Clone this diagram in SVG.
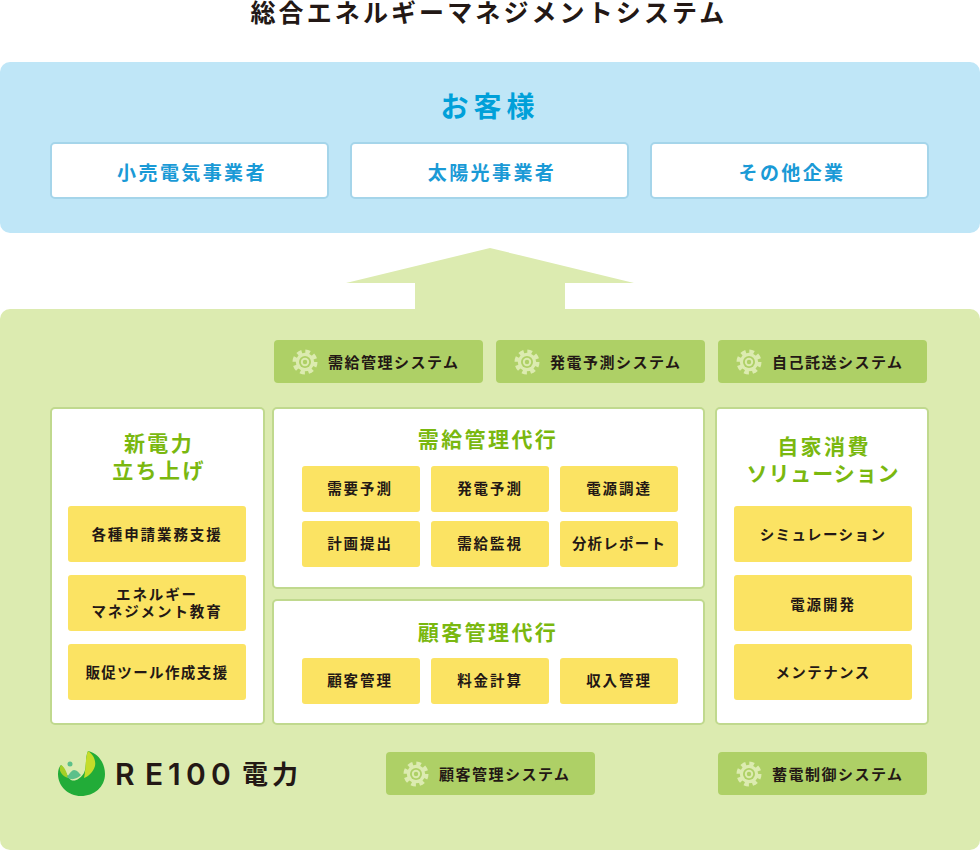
<svg xmlns="http://www.w3.org/2000/svg" width="980" height="850" viewBox="0 0 980 850">
<style>
text{font-family:"Noto Sans CJK JP","Noto Sans",sans-serif;text-anchor:middle}
.t{font-size:25px;font-weight:700;fill:#231815;letter-spacing:3.1px}
.h1{font-size:28px;font-weight:700;fill:#00a0d9;letter-spacing:5px}
.cust{fill:#fff;stroke:#a5d5ea;stroke-width:2}
.c{font-size:19px;font-weight:700;fill:#1a9ad6;letter-spacing:2.4px}
.pan{fill:#fff;stroke:#c0d98e;stroke-width:2}
.h2{font-size:21px;font-weight:700;fill:#7ab80f;letter-spacing:2.4px}
.y{fill:#fbe363}
.l{font-size:14.5px;font-weight:700;fill:#231815;letter-spacing:1.9px}
.s{fill:#aed066}
.st{font-size:15px;font-weight:700;fill:#231815;letter-spacing:1.5px;text-anchor:start}
.lg{font-weight:600;fill:#231815;text-anchor:start}
</style>
<defs>
<g id="gear">
<circle r="10.3" fill="none" stroke="#dcebb0" stroke-width="4.4" stroke-dasharray="4.6 3.49"/>
<circle r="9.2" fill="#dcebb0"/>
<circle r="6" fill="#aed066"/>
<circle r="4.2" fill="#dcebb0"/>
<circle r="2.2" fill="#aed066"/>
</g>
</defs>
<text class="t" x="489" y="22">総合エネルギーマネジメントシステム</text>
<g id="customers">
<rect x="0" y="62" width="980" height="171" rx="10" fill="#bfe6f7"/>
<text class="h1" x="490" y="117">お客様</text>
</g>
<g id="c1"><rect class="cust" x="51" y="143" width="277" height="55" rx="4"/><text class="c" x="192" y="180">小売電気事業者</text></g>
<g id="c2"><rect class="cust" x="351" y="143" width="277" height="55" rx="4"/><text class="c" x="492" y="180">太陽光事業者</text></g>
<g id="c3"><rect class="cust" x="651" y="143" width="277" height="55" rx="4"/><text class="c" x="792" y="180">その他企業</text></g>
<g id="connectors">
<path d="M346 283L490 248L634 283H565V310H415V283Z" fill="#dcebb0"/>
</g>
<g id="base"><rect x="0" y="309" width="980" height="541" rx="10" fill="#dcebb0"/></g>

<g id="s1"><rect class="s" x="274" y="340" width="209" height="43" rx="4"/><use href="#gear" x="305" y="362"/><text class="st" x="328" y="368">需給管理システム</text></g>
<g id="s2"><rect class="s" x="496" y="340" width="209" height="43" rx="4"/><use href="#gear" x="527" y="362"/><text class="st" x="550" y="368">発電予測システム</text></g>
<g id="s3"><rect class="s" x="718" y="340" width="209" height="43" rx="4"/><use href="#gear" x="749" y="362"/><text class="st" x="772" y="368">自己託送システム</text></g>
<g id="s4"><rect class="s" x="386" y="752" width="209" height="43" rx="4"/><use href="#gear" x="416" y="774"/><text class="st" x="439" y="780">顧客管理システム</text></g>
<g id="s5"><rect class="s" x="718" y="752" width="209" height="43" rx="4"/><use href="#gear" x="749" y="774"/><text class="st" x="772" y="780">蓄電制御システム</text></g>

<g id="p1"><rect class="pan" x="51" y="408" width="213" height="316" rx="4"/>
<text class="h2" x="159" y="451">新電力</text><text class="h2" x="159" y="478">立ち上げ</text></g>
<g id="p1a"><rect class="y" x="68" y="506" width="178" height="56" rx="3"/><text class="l" x="157" y="540">各種申請業務支援</text></g>
<g id="p1b"><rect class="y" x="68" y="575" width="178" height="56" rx="3"/><text class="l" x="157" y="600">エネルギー</text><text class="l" x="157" y="617">マネジメント教育</text></g>
<g id="p1c"><rect class="y" x="68" y="644" width="178" height="56" rx="3"/><text class="l" x="157" y="678" style="letter-spacing:1.4px">販促ツール作成支援</text></g>

<g id="p2"><rect class="pan" x="273" y="408" width="431" height="180" rx="4"/>
<text class="h2" x="488" y="447">需給管理代行</text></g>
<g id="p2a"><rect class="y" x="302" y="466" width="118" height="46" rx="3"/><text class="l" x="360" y="494">需要予測</text></g>
<g id="p2b"><rect class="y" x="431" y="466" width="118" height="46" rx="3"/><text class="l" x="490" y="494">発電予測</text></g>
<g id="p2c"><rect class="y" x="560" y="466" width="118" height="46" rx="3"/><text class="l" x="619" y="494">電源調達</text></g>
<g id="p2d"><rect class="y" x="302" y="521" width="118" height="46" rx="3"/><text class="l" x="360" y="549">計画提出</text></g>
<g id="p2e"><rect class="y" x="431" y="521" width="118" height="46" rx="3"/><text class="l" x="490" y="549">需給監視</text></g>
<g id="p2f"><rect class="y" x="560" y="521" width="118" height="46" rx="3"/><text class="l" x="619" y="549" style="letter-spacing:1.2px">分析レポート</text></g>

<g id="p3"><rect class="pan" x="273" y="600" width="431" height="124" rx="4"/>
<text class="h2" x="488" y="640">顧客管理代行</text></g>
<g id="p3a"><rect class="y" x="302" y="658" width="118" height="46" rx="3"/><text class="l" x="360" y="686">顧客管理</text></g>
<g id="p3b"><rect class="y" x="431" y="658" width="118" height="46" rx="3"/><text class="l" x="490" y="686">料金計算</text></g>
<g id="p3c"><rect class="y" x="560" y="658" width="118" height="46" rx="3"/><text class="l" x="619" y="686">収入管理</text></g>

<g id="p4"><rect class="pan" x="716" y="408" width="212" height="316" rx="4"/>
<text class="h2" x="824" y="454">自家消費</text><text class="h2" x="823" y="481" style="letter-spacing:.9px">ソリューション</text></g>
<g id="p4a"><rect class="y" x="734" y="506" width="178" height="56" rx="3"/><text class="l" x="823" y="540" style="letter-spacing:1.4px">シミュレーション</text></g>
<g id="p4b"><rect class="y" x="734" y="575" width="178" height="56" rx="3"/><text class="l" x="823" y="610">電源開発</text></g>
<g id="p4c"><rect class="y" x="734" y="644" width="178" height="56" rx="3"/><text class="l" x="823" y="678" style="letter-spacing:1.4px">メンテナンス</text></g>

<g id="logo">
<path d="M88 751C98 753 105 763 105 774C105 787 94 796 81 796C68 796 58 786 58 774C58 770 59 767 61 765C66 770 67 777 71 780C75 782 80 779 84 773C87 766 85 757 88 751Z" fill="#22ac38"/>
<path d="M88 751C94 755 96 761 95 766C93 772 89 776 84 778C86 770 85 758 88 751Z" fill="#c5dc2a"/>
<path d="M61 765C65 767 67 773 68 778C63 777 57 770 61 765Z" fill="#a5cf27"/>
<path d="M67 777C70 773 72 770 74 770C77 770 79 773 81 775C77 779 71 781 67 777Z" fill="#5cc08a"/>
<circle cx="70" cy="764" r="2.5" fill="#5cc08a"/>
<text class="lg" y="785" x="115 145 168 186 211" style="font-family:Inter,'Noto Sans',sans-serif;font-size:30px">RE100</text>
<text class="lg" y="784" x="242 272" style="font-size:26px;font-weight:700">電力</text>
</g>
</svg>
